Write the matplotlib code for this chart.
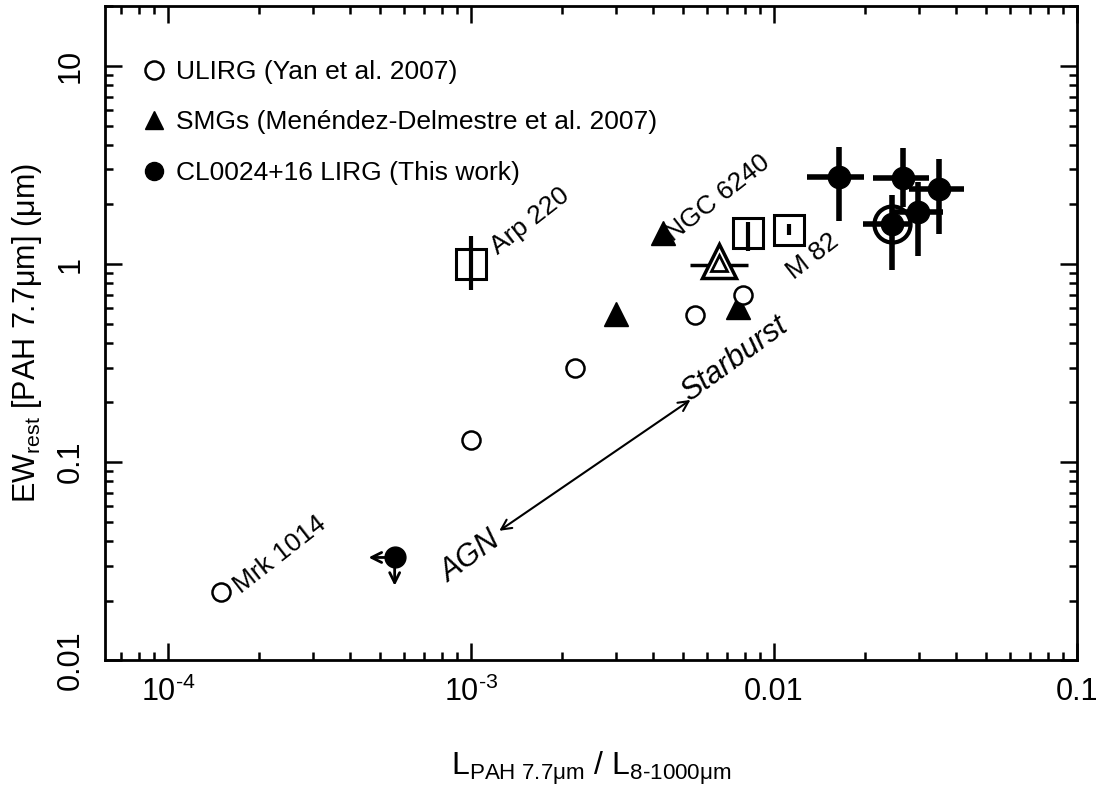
"""
PAH 7.7um equivalent width against PAH-to-IR luminosity ratio
for ULIRGs, SMGs, local templates and the CL0024+16 LIRGs.
"""
import numpy as np
import matplotlib.pyplot as plt
from matplotlib.ticker import FixedLocator, FixedFormatter, LogLocator, NullFormatter

plt.rcParams['font.family'] = ['Liberation Sans', 'DejaVu Sans']
plt.rcParams['mathtext.fontset'] = 'custom'
plt.rcParams['mathtext.rm'] = 'Liberation Sans'
plt.rcParams['mathtext.it'] = 'Liberation Sans:italic'

# ULIRGs (Yan et al. 2007)
ulirg_x = [1.5e-4, 1.0e-3, 2.2e-3, 5.5e-3, 7.9e-3]
ulirg_y = [0.022, 0.13, 0.30, 0.55, 0.70]

# SMGs (Menendez-Delmestre et al. 2007)
smg_x = [3.0e-3, 4.3e-3, 7.6e-3]
smg_y = [0.56, 1.43, 0.61]

# SMG composite (open triangle with x error)
smg_mean_x = 6.6e-3
smg_mean_y = 1.03
smg_mean_xerr = [[0.0013], [0.0016]]

# local templates: Arp 220, NGC 6240, M 82
tmpl_x = [1.0e-3, 8.2e-3, 0.0112]
tmpl_y = [1.0, 1.43, 1.49]
tmpl_yerr_lo = [0.26, 0.27, 0.09]
tmpl_yerr_hi = [0.38, 0.20, 0.10]

# CL0024+16 LIRGs (this work)
cl_x = [0.0164, 0.0267, 0.0351, 0.0299, 0.0245]
cl_y = [2.75, 2.72, 2.39, 1.83, 1.59]
cl_xerr_lo = [0.0035, 0.0055, 0.0072, 0.0052, 0.0048]
cl_xerr_hi = [0.0034, 0.0058, 0.0073, 0.0062, 0.0038]
cl_yerr_lo = [1.10, 0.78, 0.97, 0.73, 0.66]
cl_yerr_hi = [1.15, 1.13, 1.00, 0.76, 0.64]

# upper limit
lim_x = 5.6e-4
lim_y = 0.033

fig = plt.figure(figsize=(11.01, 7.85), dpi=100)
ax = fig.add_axes([0.0954, 0.159, 0.8828, 0.833])
ax.set_xscale('log')
ax.set_yscale('log')
ax.set_xlim(6.2e-5, 0.1)
ax.set_ylim(0.01, 20)

ax.plot(ulirg_x, ulirg_y, 'o', ms=13, mfc='white', mec='black', mew=1.8,
        ls='none', label='ULIRG (Yan et al. 2007)', zorder=4)
ax.plot(smg_x, smg_y, '^', ms=17, color='black', ls='none',
        label='SMGs (Menéndez-Delmestre et al. 2007)', zorder=3)

ax.errorbar([smg_mean_x], [smg_mean_y * 0.96], xerr=smg_mean_xerr, fmt='none',
            ecolor='black', elinewidth=2.5, capsize=0, zorder=3)
ax.plot([smg_mean_x], [smg_mean_y], '^', ms=24, mfc='white', mec='black', mew=2.5, zorder=4)
ax.plot([smg_mean_x], [smg_mean_y * 0.98], '^', ms=12, mfc='white', mec='black', mew=2, zorder=5)

ax.errorbar(tmpl_x, tmpl_y, yerr=[tmpl_yerr_lo, tmpl_yerr_hi], fmt='none',
            ecolor='black', elinewidth=3, capsize=0, zorder=2)
ax.plot(tmpl_x, tmpl_y, 's', ms=22, mfc='none', mec='black', mew=2.2, zorder=3)

ax.errorbar(cl_x, cl_y, xerr=[cl_xerr_lo, cl_xerr_hi], yerr=[cl_yerr_lo, cl_yerr_hi],
            fmt='none', ecolor='black', elinewidth=4, capsize=0, zorder=5)
ax.plot(cl_x, cl_y, 'o', ms=16, color='black', ls='none',
        label='CL0024+16 LIRG (This work)', zorder=6)
ax.plot([cl_x[-1]], [cl_y[-1]], 'o', ms=26, mfc='none', mec='black', mew=3, zorder=6)

# upper limit in both directions
ax.plot([lim_x], [lim_y], 'o', ms=15, color='black', zorder=6)
arrow = dict(arrowstyle='->', lw=2, color='black', mutation_scale=18, shrinkA=0, shrinkB=0)
ax.annotate('', xy=(lim_x * 0.82, lim_y), xytext=(lim_x, lim_y), arrowprops=arrow)
ax.annotate('', xy=(lim_x, lim_y * 0.72), xytext=(lim_x, lim_y), arrowprops=arrow)

# AGN <-> Starburst
ax.annotate('', xy=(1.24e-3, 0.045), xytext=(5.3e-3, 0.206),
            arrowprops=dict(arrowstyle='<->', lw=1.5, color='black',
                            mutation_scale=18, shrinkA=0, shrinkB=0))
ax.text(1.0e-3, 0.033, 'AGN', fontsize=22, style='italic', rotation=36,
        ha='center', va='center')
ax.text(7.4e-3, 0.33, 'Starburst', fontsize=22, style='italic', rotation=36,
        ha='center', va='center')

name_kw = dict(fontsize=19, rotation=38, rotation_mode='anchor', ha='left', va='baseline')
ax.text(1.74e-4, 0.0215, 'Mrk 1014', **name_kw)
ax.text(1.23e-3, 1.11, 'Arp 220', **name_kw)
ax.text(4.65e-3, 1.29, 'NGC 6240', **name_kw)
ax.text(0.01164, 0.83, 'M 82', **name_kw)

leg = ax.legend(loc='upper left', bbox_to_anchor=(0.026, 0.934), frameon=False,
                fontsize=19, handletextpad=0.35, handlelength=1.0,
                labelspacing=1.0, borderaxespad=0)
for h in leg.legend_handles:
    h.set_markersize(13)

ax.xaxis.set_major_locator(FixedLocator([1e-4, 1e-3, 1e-2, 1e-1]))
ax.xaxis.set_major_formatter(FixedFormatter([r'$\mathregular{10^{\text{-}4}}$',
                                             r'$\mathregular{10^{\text{-}3}}$', '0.01', '0.1']))
ax.yaxis.set_major_locator(FixedLocator([0.01, 0.1, 1, 10]))
ax.yaxis.set_major_formatter(FixedFormatter(['0.01', '0.1', '1', '10']))
for axis in (ax.xaxis, ax.yaxis):
    axis.set_minor_locator(LogLocator(base=10, subs=np.arange(2, 10), numticks=20))
    axis.set_minor_formatter(NullFormatter())

ax.tick_params(which='both', direction='in', top=True, right=True, width=1.8, labelsize=22)
ax.tick_params(which='major', length=12)
ax.tick_params(which='minor', length=6)
ax.tick_params(axis='x', pad=12)
ax.tick_params(axis='y', pad=14)
for lbl in ax.get_yticklabels():
    lbl.set_rotation(90)
    lbl.set_va('center')
for s in ax.spines.values():
    s.set_linewidth(2)

ax.set_xlabel(r'$\mathregular{L_{PAH\ 7.7\mu m}\ /\ L_{8\text{-}1000\mu m}}$', fontsize=23, labelpad=30)
ax.set_ylabel(r'$\mathregular{EW_{rest}}$ [PAH 7.7$\mathregular{\mu}$m] ($\mathregular{\mu}$m)',
              fontsize=22, labelpad=8)

fig.savefig('out.png', dpi=100)
